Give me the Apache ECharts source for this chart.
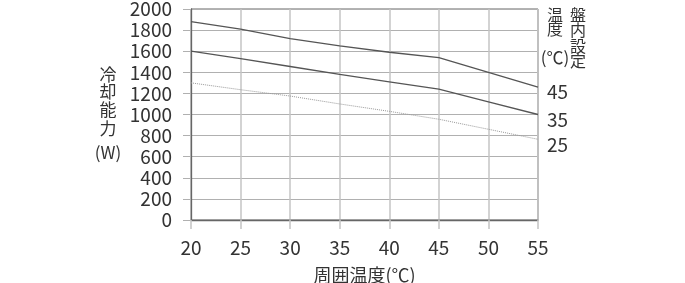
<!DOCTYPE html>
<html>
<head>
<meta charset="utf-8">
<script src="https://cdn.jsdelivr.net/npm/echarts@6/dist/echarts.min.js"></script>
<style>
html,body{margin:0;padding:0;background:#fff;}
#chart{width:685px;height:283px;}
</style>
</head>
<body>
<div id="chart"></div>
<script>
// Ambient temperature (°C)
const ambientTemps = [20, 25, 30, 35, 40, 45, 50, 55];
// Cooling capacity (W) per internal set temperature
const set45 = [1880, 1810, 1720, 1650, 1590, 1540, 1400, 1260];
const set35 = [1600, 1530, 1455, 1380, 1310, 1240, 1120, 1000];
const set25 = [1300, 1235, 1175, 1100, 1030, 955, 860, 765];
const seriesNames = ['45', '35', '25'];
const xAxisTitle = '周囲温度(℃)';
const yAxisTitleChars = ['冷', '却', '能', '力', '(W)'];
const legendTitleLeft = ['温', '度', '(℃)'];
const legendTitleRight = ['盤', '内', '設', '定'];

const FONT = '"Noto Sans CJK JP", "Noto Sans", sans-serif';
const pairs = arr => ambientTemps.map((t, i) => [t, arr[i]]);

const chart = echarts.init(document.getElementById('chart'), null, {renderer: 'canvas'});

const graphics = [];
yAxisTitleChars.forEach((c, i) => {
  graphics.push({type: 'text', x: 108, y: [75, 92, 110, 129, 153][i],
    style: {text: c, font: '17px ' + FONT, fill: '#333', align: 'center', verticalAlign: 'middle'}});
});
legendTitleLeft.forEach((c, i) => {
  graphics.push({type: 'text', x: 555, y: [15, 29, 58][i],
    style: {text: c, font: (i === 2 ? '17px ' : '16px ') + FONT, fill: '#333', align: 'center', verticalAlign: 'middle'}});
});
legendTitleRight.forEach((c, i) => {
  graphics.push({type: 'text', x: 578, y: [15, 30, 46, 61][i],
    style: {text: c, font: '16px ' + FONT, fill: '#333', align: 'center', verticalAlign: 'middle'}});
});

const lineSeries = (name, data, style) => ({
  name: name,
  type: 'line',
  data: pairs(data),
  symbol: 'none',
  lineStyle: style,
  silent: true,
  animation: false,
  endLabel: {
    show: true,
    formatter: '{a}',
    fontFamily: FONT,
    fontSize: 19,
    color: '#333',
    distance: 9,
    offset: [0, 5]
  }
});

chart.setOption({
  animation: false,
  backgroundColor: '#fff',
  textStyle: {fontFamily: FONT},
  grid: {left: 191, right: 147, top: 9, bottom: 63, show: true, borderColor: '#666', borderWidth: 1,
         containLabel: false, outerBoundsMode: 'none'},
  xAxis: {
    type: 'value', min: 20, max: 55, interval: 5,
    name: xAxisTitle, nameLocation: 'middle', nameGap: 46,
    nameTextStyle: {fontSize: 18, color: '#333', fontFamily: FONT},
    axisLine: {show: true, lineStyle: {color: '#666', width: 1.3}},
    axisTick: {show: true, length: 9, lineStyle: {color: '#c4c4c4', width: 1.5}},
    axisLabel: {fontSize: 19, color: '#333', margin: 18, fontFamily: FONT},
    splitLine: {show: true, lineStyle: {color: '#c4c4c4', width: 1.5}}
  },
  yAxis: {
    type: 'value', min: 0, max: 2000, interval: 200,
    axisLine: {show: true, lineStyle: {color: '#666', width: 1.3}},
    axisTick: {show: true, length: 8, lineStyle: {color: '#b0b0b0', width: 1}},
    axisLabel: {fontSize: 19, color: '#333', margin: 19, fontFamily: FONT, formatter: v => String(v)},
    splitLine: {show: true, lineStyle: {color: '#b0b0b0', width: 1}}
  },
  series: [
    lineSeries(seriesNames[0], set45, {color: '#555', width: 1.3}),
    lineSeries(seriesNames[1], set35, {color: '#555', width: 1.3}),
    lineSeries(seriesNames[2], set25, {color: '#999', width: 1, type: 'dotted'})
  ],
  graphic: graphics
});
</script>
</body>
</html>
